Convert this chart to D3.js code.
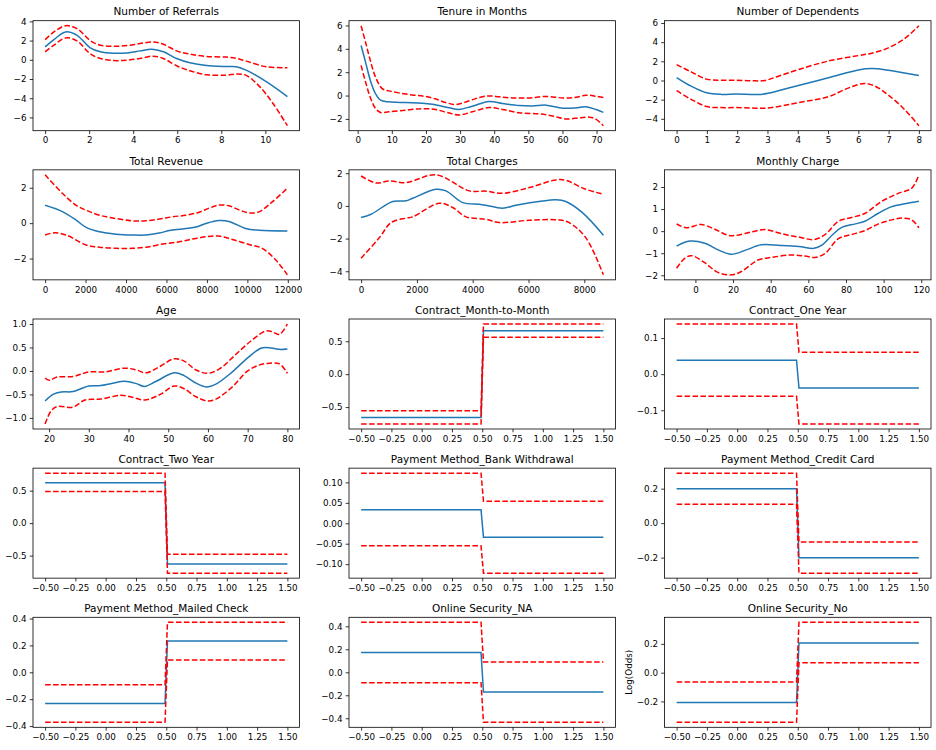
<!DOCTYPE html>
<html>
<head>
<meta charset="utf-8">
<script src="https://cdn.jsdelivr.net/npm/d3@7"></script>
<style>
  body { margin: 0; background: #fff; }
  text { font-family: "DejaVu Sans", sans-serif; }
</style>
</head>
<body>
<div id="chart"></div>
<script>
// Partial dependence grid: mean effect (blue) with confidence band (red dashed)

const panelTitles = ["Number of Referrals", "Tenure in Months", "Number of Dependents",
    "Total Revenue", "Total Charges", "Monthly Charge", "Age",
    "Contract_Month-to-Month", "Contract_One Year", "Contract_Two Year",
    "Payment Method_Bank Withdrawal", "Payment Method_Credit Card",
    "Payment Method_Mailed Check", "Online Security_NA", "Online Security_No"];

// continuous features: [x, y] pairs
const refMean = [[0,1.34],[0.4,2.1],[0.93,2.9],[1.45,2.55],[2.05,1.25],[2.51,0.83],[3.11,0.68],[3.71,0.72],[4.31,0.93],[4.84,1.1],[5.37,0.83],[5.97,0.14],[6.57,-0.31],[7.33,-0.6],[8.23,-0.7],[8.68,-0.72],[9.13,-1.07],[10.04,-2.28],[11,-3.83]];
const refUpper = [[0,2.1],[0.4,2.9],[0.93,3.55],[1.45,3.24],[2.05,2.0],[2.51,1.52],[3.11,1.41],[3.71,1.48],[4.31,1.69],[4.9,1.86],[5.37,1.62],[5.97,0.93],[6.57,0.59],[7.33,0.35],[8.23,0.28],[8.68,0.16],[9.13,-0.14],[10.04,-0.72],[11,-0.83]];
const refLower = [[0,0.83],[0.4,1.52],[0.93,2.28],[1.45,1.97],[2.05,0.62],[2.51,0.14],[3.11,-0.08],[3.71,-0.03],[4.31,0.14],[4.9,0.38],[5.37,0.14],[5.97,-0.62],[6.57,-1.14],[7.33,-1.55],[8.23,-1.6],[8.68,-1.48],[9.13,-1.62],[9.74,-2.79],[10.34,-4.52],[11,-6.86]];

const tenMean = [[1,4.28],[2.3,2.86],[3.7,1.3],[5.2,0.17],[6.7,-0.4],[9.1,-0.54],[14,-0.6],[18.9,-0.65],[21.9,-0.75],[26.8,-1.05],[29.7,-1.19],[33.6,-0.91],[38.5,-0.5],[42.4,-0.68],[47.3,-0.86],[51.2,-0.9],[55.2,-0.82],[60.1,-1.08],[64,-1.05],[66.9,-0.95],[69.9,-1.2],[72,-1.44]];
const tenUpper = [[1,5.98],[2.3,4.56],[3.7,3.0],[5.2,1.59],[7.2,0.59],[9.1,0.4],[12.1,0.23],[16,0.05],[19.9,-0.08],[22.9,-0.3],[25.8,-0.6],[28.8,-0.76],[32.7,-0.45],[35.6,-0.17],[38.5,-0.03],[41.5,-0.11],[45.4,-0.2],[50.3,-0.2],[55.2,-0.08],[60.1,-0.2],[64,-0.15],[66.9,0.03],[69.9,-0.06],[72,-0.17]];
const tenLower = [[1,2.58],[2.3,1.16],[3.7,-0.17],[5.2,-1.1],[6.7,-1.45],[9.1,-1.39],[14,-1.25],[18.9,-1.12],[22.9,-1.2],[26.8,-1.5],[29.7,-1.67],[33.6,-1.39],[38.5,-1.02],[42.4,-1.19],[47.3,-1.47],[53.2,-1.57],[57.1,-1.75],[61,-2.0],[65,-1.9],[67.9,-1.85],[69.9,-2.04],[72,-2.58]];

const depMean = [[0,0.31],[0.48,-0.59],[0.99,-1.28],[1.48,-1.45],[1.97,-1.41],[2.47,-1.45],[2.8,-1.45],[3.02,-1.34],[4.02,-0.52],[5.01,0.28],[6,1.1],[6.44,1.24],[6.99,1.07],[8,0.52]];
const depUpper = [[0,1.66],[0.48,0.9],[0.99,0.14],[1.48,0.03],[1.97,0.03],[2.47,-0.03],[2.91,0.0],[3.36,0.45],[4.02,1.14],[5.01,2.03],[6,2.6],[6.44,2.85],[6.99,3.4],[7.54,4.4],[8,5.72]];
const depLower = [[0,-1.07],[0.48,-1.97],[0.99,-2.72],[1.48,-2.83],[1.97,-2.83],[2.47,-2.88],[2.91,-2.9],[3.47,-2.66],[4.02,-2.31],[5.01,-1.69],[5.56,-0.93],[6,-0.42],[6.22,-0.31],[6.55,-0.59],[6.99,-1.52],[7.54,-3.07],[8,-4.72]];

const revMean = [[0,1.01],[879,0.64],[1536,0.17],[2029,-0.24],[2686,-0.49],[3508,-0.62],[4329,-0.67],[4986,-0.67],[5643,-0.56],[6136,-0.42],[6793,-0.33],[7451,-0.22],[7944,-0.02],[8601,0.15],[9094,0.1],[9916,-0.3],[10573,-0.4],[11979,-0.44]];
const revUpper = [[0,2.73],[879,1.66],[1536,1.01],[2029,0.73],[2686,0.45],[3508,0.26],[4329,0.13],[4986,0.14],[5643,0.23],[6300,0.36],[6957,0.45],[7615,0.62],[8108,0.85],[8601,1.02],[9094,0.98],[9587,0.75],[10080,0.58],[10573,0.64],[11230,1.2],[11979,1.98]];
const revLower = [[0,-0.67],[468,-0.54],[1043,-0.67],[2029,-1.23],[2686,-1.36],[3508,-1.42],[4329,-1.42],[4986,-1.36],[5808,-1.18],[6629,-1.05],[7287,-0.9],[7944,-0.77],[8601,-0.73],[9259,-0.92],[10080,-1.2],[10737,-1.42],[11395,-2.07],[11979,-2.92]];

const chgMean = [[0,-0.71],[358,-0.51],[1133,0.27],[1610,0.31],[1849,0.47],[2684,1.02],[3042,0.92],[3638,0.2],[4235,0.1],[4474,0.04],[5070,-0.14],[5547,0.04],[6500,0.3],[6978,0.37],[7336,0.27],[7932,-0.41],[8684,-1.79]];
const chgUpper = [[0,1.83],[537,1.4],[1014,1.53],[1610,1.42],[2684,1.9],[3877,0.92],[4474,0.9],[5070,0.77],[6024,1.12],[6978,1.59],[7336,1.57],[8000,1.05],[8684,0.71]];
const chgLower = [[0,-3.2],[656,-1.94],[1074,-1.02],[1610,-0.75],[1849,-0.67],[2803,0.16],[3280,-0.1],[3757,-0.67],[4474,-0.82],[4951,-1.02],[6024,-0.88],[7098,-0.86],[7455,-1.02],[8052,-1.94],[8684,-4.22]];

const monMean = [[-10,-0.68],[-3,-0.45],[5,-0.55],[12,-0.85],[19,-1.05],[27,-0.85],[35,-0.62],[45,-0.65],[55,-0.7],[63,-0.78],[67,-0.65],[73,-0.15],[78,0.18],[85,0.33],[90,0.45],[97,0.8],[104,1.1],[112,1.25],[118.75,1.35]];
const monUpper = [[-10,0.33],[-5,0.15],[3,0.3],[10,0.1],[17,-0.18],[21,-0.2],[30,-0.03],[37,0.07],[46,-0.12],[55,-0.27],[63,-0.38],[69,-0.15],[76,0.45],[83,0.62],[90,0.8],[99,1.35],[108,1.72],[115,1.95],[118.75,2.55]];
const monLower = [[-10,-1.68],[-5.7,-1.23],[-2.2,-1.11],[4.9,-1.43],[12,-1.87],[19.1,-1.98],[24.4,-1.83],[33.3,-1.31],[40.4,-1.19],[51.1,-1.08],[58.2,-1.13],[63.5,-1.19],[68.9,-1.01],[76,-0.34],[83.1,-0.15],[90.2,0.03],[97.3,0.33],[104.4,0.51],[109.7,0.59],[115,0.51],[118.75,0.15]];

const ageMean = [[19,-0.64],[21,-0.5],[23,-0.45],[26,-0.44],[28,-0.38],[30,-0.32],[33,-0.31],[36,-0.26],[39,-0.22],[42,-0.27],[44,-0.33],[47,-0.22],[51.5,-0.04],[54,-0.1],[57,-0.26],[59.5,-0.34],[62,-0.28],[66,-0.03],[70,0.28],[73.5,0.49],[76,0.49],[78,0.46],[80,0.47]];
const ageUpper = [[19,-0.15],[20,-0.2],[22,-0.13],[26,-0.12],[28,-0.07],[30,-0.02],[34,-0.02],[39,0.06],[42,0.02],[44.5,-0.04],[48,0.1],[51.5,0.26],[54,0.21],[57,0.02],[60,-0.05],[63,0.05],[67,0.35],[71,0.65],[74.5,0.85],[76,0.84],[78,0.78],[80,1.0]];
const ageLower = [[19,-1.13],[20.5,-0.85],[22,-0.76],[26,-0.77],[29,-0.62],[33,-0.6],[38,-0.52],[41,-0.56],[44,-0.62],[48,-0.5],[51.5,-0.32],[54,-0.38],[57,-0.55],[60,-0.64],[62,-0.6],[66,-0.35],[70,0.0],[73,0.13],[75,0.16],[78,0.15],[80,-0.05]];

// binary features: value on the 0 side and on the 1 side
const binX = [-0.5, 0.4899, 0.5101, 1.5];
const binMean  = [[-0.657,0.66],[0.0385,-0.0385],[0.624,-0.63],[0.033,-0.034],[0.2,-0.2],[-0.232,0.232],[0.172,-0.172],[-0.207,0.207]];
const binUpper = [[-0.556,0.762],[0.139,0.061],[0.77,-0.48],[0.1226,0.054],[0.29,-0.11],[-0.092,0.372],[0.435,0.09],[-0.065,0.35]];
const binLower = [[-0.757,0.561],[-0.061,-0.138],[0.487,-0.77],[-0.055,-0.122],[0.11,-0.29],[-0.372,0.092],[-0.09,-0.435],[-0.345,0.069]];

const binTicks = [-0.5, -0.25, 0, 0.25, 0.5, 0.75, 1, 1.25, 1.5];
const xTickSets = [[0,2,4,6,8,10], [0,10,20,30,40,50,60,70], [0,1,2,3,4,5,6,7,8],
    [0,2000,4000,6000,8000,10000,12000], [0,2000,4000,6000,8000], [0,20,40,60,80,100,120],
    [20,30,40,50,60,70,80]];
const yTickSets = [[-6,-4,-2,0,2,4], [-2,0,2,4,6], [-4,-2,0,2,4,6], [-2,0,2], [-4,-2,0,2],
    [-2,-1,0,1,2], [-1,-0.5,0,0.5,1], [-0.5,0,0.5], [-0.1,0,0.1], [-0.5,0,0.5],
    [-0.1,-0.05,0,0.05,0.1], [-0.2,0,0.2], [-0.4,-0.2,0,0.2,0.4], [-0.4,-0.2,0,0.2,0.4], [-0.2,0,0.2]];
const yFormats = ["d","d","d","d","d","d",".1f",".1f",".1f",".1f",".2f",".1f",".1f",".1f",".1f"];

const contMean = [refMean, tenMean, depMean, revMean, chgMean, monMean, ageMean];
const contUpper = [refUpper, tenUpper, depUpper, revUpper, chgUpper, monUpper, ageUpper];
const contLower = [refLower, tenLower, depLower, revLower, chgLower, monLower, ageLower];

function stepSeries(levels) {
    return binX.map((x, i) => [x, i < 2 ? levels[0] : levels[1]]);
}

const panels = panelTitles.map((title, i) => {
    const isBin = i >= 7;
    return {
        title: title,
        mean: isBin ? stepSeries(binMean[i - 7]) : contMean[i],
        upper: isBin ? stepSeries(binUpper[i - 7]) : contUpper[i],
        lower: isBin ? stepSeries(binLower[i - 7]) : contLower[i],
        xTicks: isBin ? binTicks : xTickSets[i],
        xFmt: isBin ? ".2f" : "d",
        yTicks: yTickSets[i],
        yFmt: yFormats[i],
        smooth: !isBin
    };
});

// layout (matplotlib tight_layout look)
const width = 936, height = 750;
const colLeft = [33, 349, 664.5];
const axW = 266.5, axH = 110;
const rowTop0 = 20.7, rowPitch = 149.15;
const pt = 0.875;              // text scale
const tickFont = 10 * pt, titleFont = 12 * pt;
const lw = 1.5;

const svg = d3.select('#chart')
    .append('svg')
    .attr('width', width)
    .attr('height', height);

function padExtent(values) {
    const [lo, hi] = d3.extent(values);
    const m = (hi - lo) * 0.05;
    return [lo - m, hi + m];
}

panels.forEach((p, i) => {
    const col = i % 3, row = Math.floor(i / 3);
    const g = svg.append('g')
        .attr('transform', `translate(${colLeft[col]},${rowTop0 + row * rowPitch})`);

    const all = p.mean.concat(p.upper, p.lower);
    const x = d3.scaleLinear().domain(padExtent(all.map(d => d[0]))).range([0, axW]);
    const y = d3.scaleLinear().domain(padExtent(all.map(d => d[1]))).range([axH, 0]);

    const line = d3.line()
        .x(d => x(d[0]))
        .y(d => y(d[1]))
        .curve(p.smooth ? d3.curveCatmullRom.alpha(0.5) : d3.curveLinear);

    g.append('path')
        .attr('d', line(p.mean))
        .attr('fill', 'none')
        .attr('stroke', '#1f77b4')
        .attr('stroke-width', lw);

    [p.upper, p.lower].forEach(band => {
        g.append('path')
            .attr('d', line(band))
            .attr('fill', 'none')
            .attr('stroke', '#ff0000')
            .attr('stroke-width', lw)
            .attr('stroke-dasharray', `${3.7 * lw},${1.6 * lw}`);
    });

    // axes
    const xAxis = g.append('g')
        .attr('transform', `translate(0,${axH})`)
        .call(d3.axisBottom(x).tickValues(p.xTicks).tickSize(3.3).tickPadding(3.2)
            .tickFormat(d3.format(p.xFmt)));
    const yAxis = g.append('g')
        .call(d3.axisLeft(y).tickValues(p.yTicks).tickSize(3.3).tickPadding(3.2)
            .tickFormat(d3.format(p.yFmt)));

    [xAxis, yAxis].forEach(a => {
        a.select('.domain').remove();
        a.attr('font-family', '"DejaVu Sans", sans-serif').attr('font-size', tickFont);
        a.selectAll('line').attr('stroke', '#000').attr('stroke-width', 0.8);
        a.selectAll('text').attr('fill', '#000');
    });

    g.append('rect')
        .attr('width', axW)
        .attr('height', axH)
        .attr('fill', 'none')
        .attr('stroke', '#000')
        .attr('stroke-width', 0.8);

    g.append('text')
        .attr('x', axW / 2)
        .attr('y', -6 * pt)
        .attr('text-anchor', 'middle')
        .attr('font-size', titleFont)
        .attr('fill', '#000')
        .text(p.title);

    if (i === panels.length - 1) {
        g.append('text')
            .attr('transform', `translate(-32.5,${axH / 2}) rotate(-90)`)
            .attr('text-anchor', 'middle')
            .attr('font-size', tickFont)
            .attr('fill', '#000')
            .text('Log(Odds)');
    }
});
</script>
</body>
</html>
